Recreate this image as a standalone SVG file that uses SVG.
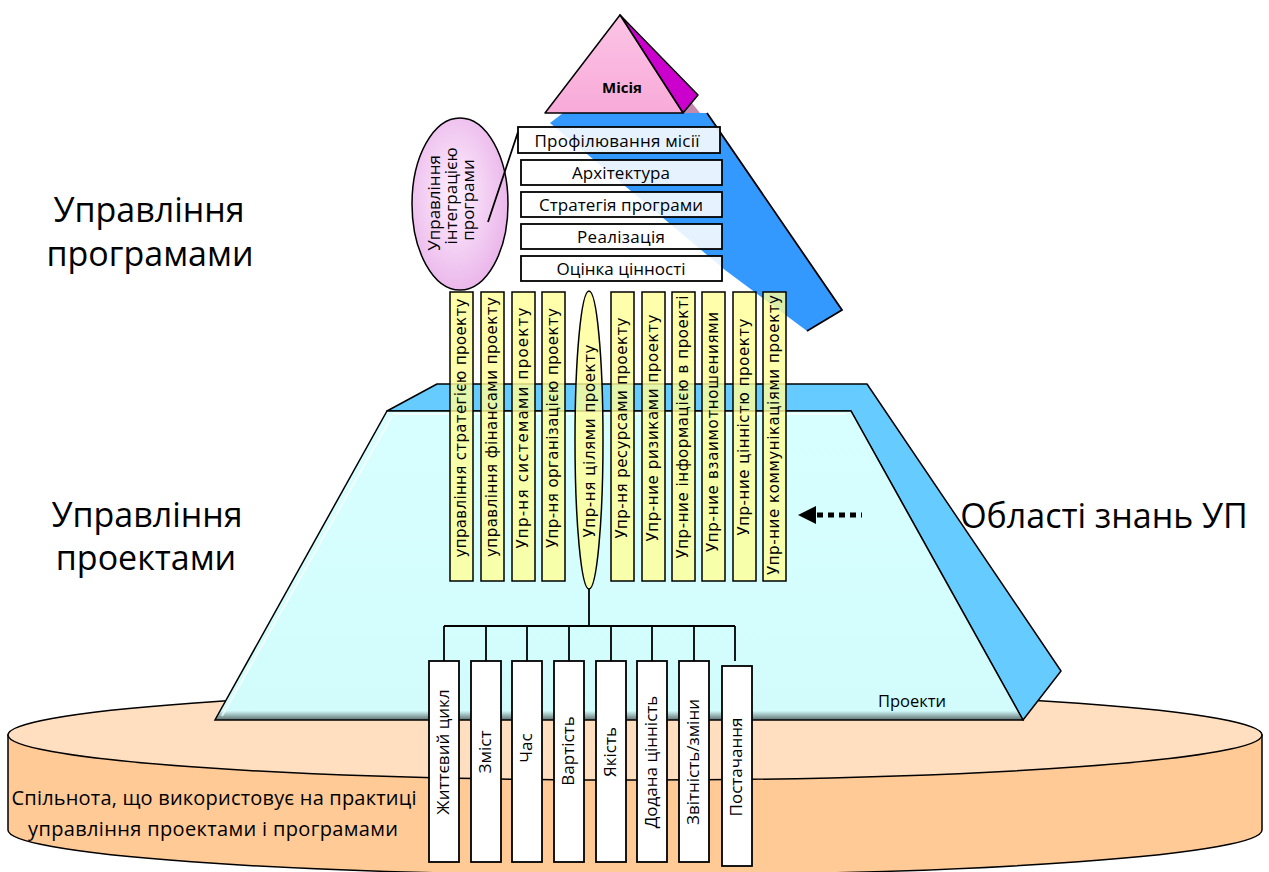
<svg xmlns="http://www.w3.org/2000/svg" width="1269" height="872" viewBox="0 0 1269 872">
<defs>
<style>
.ttl{font-family:"Open Sans","Noto Sans",sans-serif;font-size:34px;fill:#000}
.lbl{font-family:"Open Sans","Noto Sans",sans-serif;font-size:17px;fill:#000}
.bar{fill:#FFFF99;fill-opacity:0.82;stroke:#000;stroke-width:1.5}
.bt{font-family:"DejaVu Sans",sans-serif;font-size:15px;fill:#000}
.wb{fill:#fff;stroke:#000;stroke-width:1.8}
.wt{font-family:"Open Sans","Noto Sans",sans-serif;font-size:17px;fill:#000}
.pb{fill:#fff;fill-opacity:0.88;stroke:#000;stroke-width:1.8}
.ln{stroke:#000;stroke-width:1.8;fill:none}
</style>
<radialGradient id="ellG" cx="0.45" cy="0.45" r="0.6">
<stop offset="0" stop-color="#FFF0FF"/>
<stop offset="1" stop-color="#E9B3E9"/>
</radialGradient>
<linearGradient id="trapG" x1="0" y1="0" x2="0" y2="1">
<stop offset="0" stop-color="#D8FFFF"/>
<stop offset="0.97" stop-color="#D2FCFC"/>
<stop offset="1" stop-color="#5F7070"/>
</linearGradient>
<linearGradient id="pinkG" x1="0" y1="0" x2="0" y2="1">
<stop offset="0" stop-color="#FCC4E6"/>
<stop offset="1" stop-color="#F8AAD8"/>
</linearGradient>
</defs>
<rect width="1269" height="872" fill="#fff"/>

<g id="disc">
<path d="M8,735 L8,830 A627,45 0 0 0 1262,830 L1262,735 Z" fill="#FFCA96" stroke="#000" stroke-width="1.5"/>
<ellipse cx="635" cy="735" rx="627" ry="45" fill="#FFDFC0" stroke="#000" stroke-width="1.5"/>
<text class="lbl" style="font-size:20px" x="214" y="805" text-anchor="middle" textLength="405">Спільнота, що використовує на практиці</text>
<text class="lbl" style="font-size:20px" x="213" y="836" text-anchor="middle" textLength="370">управління проектами і програмами</text>
</g>

<g id="projects-layer">
<polygon points="387,411 437,384 867,384 1061,671 1023,720 851,411" fill="#66CCFF" stroke="#000" stroke-width="1.5" stroke-linejoin="round"/>
<polygon points="387,411 851,411 1023,720 215,720" fill="url(#trapG)" stroke="#000" stroke-width="1.5"/>
<line x1="392" y1="416" x2="222" y2="716" stroke="#fff" stroke-width="2" stroke-opacity="0.7"/>
<line x1="392" y1="414" x2="846" y2="414" stroke="#fff" stroke-width="2" stroke-opacity="0.6"/>
<text class="lbl" style="font-size:16.5px" x="912" y="707" text-anchor="middle">Проекти</text>
</g>

<g id="program-band">
<polygon points="550,123 563,113 707,113 842,310 807,331 725,270" fill="#3399FF"/>
<polyline points="707,113 842,310 807,331" class="ln" stroke-width="1.5"/>
</g>

<g id="mission">
<polygon points="620,13 700,113 683,113" fill="#C48AAE"/>
<polygon points="620,15 698,95 683,113" fill="#CC00CC" stroke="#000" stroke-width="1.5" stroke-linejoin="round"/>
<polygon points="620,15 545,113 683,113" fill="url(#pinkG)" stroke="#000" stroke-width="1.5" stroke-linejoin="round"/>
<text x="622" y="93" text-anchor="middle" style="font-family:'Open Sans','Noto Sans',sans-serif;font-size:15px;font-weight:bold">Місія</text>
</g>

<g id="program-steps">
<rect class="pb" x="518" y="127" width="202" height="26"/>
<text class="lbl" x="617" y="147" text-anchor="middle" textLength="165">Профілювання місії</text>
<rect class="pb" x="521" y="160" width="201" height="25"/>
<text class="lbl" x="621" y="179" text-anchor="middle" textLength="98">Архітектура</text>
<rect class="pb" x="521" y="192" width="201" height="25"/>
<text class="lbl" x="621" y="211" text-anchor="middle" textLength="164">Стратегія програми</text>
<rect class="pb" x="521" y="224" width="201" height="25"/>
<text class="lbl" x="621" y="243" text-anchor="middle" textLength="88">Реалізація</text>
<rect class="pb" x="521" y="256" width="201" height="25"/>
<text class="lbl" x="621" y="275" text-anchor="middle" textLength="129">Оцінка цінності</text>
</g>

<g id="integration">
<ellipse cx="460" cy="204" rx="48" ry="86" fill="url(#ellG)" stroke="#000" stroke-width="1.5"/>
<text class="lbl" transform="translate(440,203) rotate(-90)" text-anchor="middle">Управління</text>
<text class="lbl" transform="translate(457,196) rotate(-90)" text-anchor="middle">інтеграцією</text>
<text class="lbl" transform="translate(474,200) rotate(-90)" text-anchor="middle">програми</text>
</g>

<g id="knowledge-areas">
<rect class="bar" x="450" y="292" width="23" height="289"/>
<text class="bt" transform="translate(466,428) rotate(-90)" text-anchor="middle" textLength="259">управління стратегією проекту</text>
<rect class="bar" x="481" y="292" width="23" height="289"/>
<text class="bt" transform="translate(497,427) rotate(-90)" text-anchor="middle" textLength="260">управління фінансами проекту</text>
<rect class="bar" x="512" y="292" width="23" height="289"/>
<text class="bt" transform="translate(528,428) rotate(-90)" text-anchor="middle" textLength="241">Упр-ня системами проекту</text>
<rect class="bar" x="542" y="292" width="23" height="289"/>
<text class="bt" transform="translate(558,428) rotate(-90)" text-anchor="middle" textLength="240">Упр-ня організацією проекту</text>
<ellipse class="bar" cx="589" cy="440" rx="14" ry="149"/>
<text class="bt" transform="translate(595,441) rotate(-90)" text-anchor="middle" textLength="193">Упр-ня цілями проекту</text>
<rect class="bar" x="611" y="292" width="23" height="289"/>
<text class="bt" transform="translate(627,428) rotate(-90)" text-anchor="middle" textLength="221">Упр-ня ресурсами проекту</text>
<rect class="bar" x="642" y="292" width="23" height="289"/>
<text class="bt" transform="translate(658,428) rotate(-90)" text-anchor="middle" textLength="227">Упр-ние ризиками проекту</text>
<rect class="bar" x="672" y="292" width="23" height="289"/>
<text class="bt" transform="translate(688,427) rotate(-90)" text-anchor="middle" textLength="263">Упр-ние інформацією в проекті</text>
<rect class="bar" x="702" y="292" width="23" height="289"/>
<text class="bt" transform="translate(718,432) rotate(-90)" text-anchor="middle" textLength="240">Упр-ние взаимотношениями</text>
<rect class="bar" x="733" y="292" width="23" height="289"/>
<text class="bt" transform="translate(749,427) rotate(-90)" text-anchor="middle" textLength="217">Упр-ние цінністю проекту</text>
<rect class="bar" x="763" y="292" width="23" height="289"/>
<text class="bt" transform="translate(779,435) rotate(-90)" text-anchor="middle" textLength="280">Упр-ние коммунікаціями проекту</text>
</g>

<g id="connectors">
<line class="ln" x1="488" y1="222" x2="518" y2="132"/>
<line class="ln" x1="589" y1="589" x2="589" y2="626"/>
<line class="ln" x1="444" y1="626" x2="735" y2="626"/>
<line class="ln" x1="444" y1="626" x2="444" y2="661"/>
<line class="ln" x1="486" y1="626" x2="486" y2="661"/>
<line class="ln" x1="527" y1="626" x2="527" y2="661"/>
<line class="ln" x1="569" y1="626" x2="569" y2="661"/>
<line class="ln" x1="611" y1="626" x2="611" y2="661"/>
<line class="ln" x1="652" y1="626" x2="652" y2="661"/>
<line class="ln" x1="694" y1="626" x2="694" y2="661"/>
<line class="ln" x1="735" y1="626" x2="735" y2="661"/>
<line x1="817" y1="515" x2="862" y2="515" stroke="#000" stroke-width="5" stroke-dasharray="6 5"/>
<polygon points="798,515 816,506 816,524" fill="#000"/>
</g>

<g id="components">
<rect class="wb" x="429" y="661" width="30" height="201"/>
<text class="wt" transform="translate(449,752) rotate(-90)" text-anchor="middle">Життєвий цикл</text>
<rect class="wb" x="471" y="661" width="30" height="201"/>
<text class="wt" transform="translate(491,752) rotate(-90)" text-anchor="middle">Зміст</text>
<rect class="wb" x="512" y="661" width="30" height="201"/>
<text class="wt" transform="translate(532,748) rotate(-90)" text-anchor="middle">Час</text>
<rect class="wb" x="554" y="661" width="30" height="201"/>
<text class="wt" transform="translate(574,751) rotate(-90)" text-anchor="middle">Вартість</text>
<rect class="wb" x="596" y="661" width="30" height="201"/>
<text class="wt" transform="translate(616,752) rotate(-90)" text-anchor="middle">Якість</text>
<rect class="wb" x="637" y="661" width="30" height="201"/>
<text class="wt" transform="translate(657,762) rotate(-90)" text-anchor="middle">Додана цінність</text>
<rect class="wb" x="679" y="661" width="30" height="201"/>
<text class="wt" transform="translate(699,762) rotate(-90)" text-anchor="middle">Звітність/зміни</text>
<rect class="wb" x="722" y="666" width="30" height="200"/>
<text class="wt" transform="translate(742,767) rotate(-90)" text-anchor="middle">Постачання</text>
</g>

<g id="titles">
<text class="ttl" x="149" y="222" text-anchor="middle">Управління</text>
<text class="ttl" x="150" y="266" text-anchor="middle">програмами</text>
<text class="ttl" x="147" y="527" text-anchor="middle">Управління</text>
<text class="ttl" x="146" y="570" text-anchor="middle">проектами</text>
<text class="ttl" x="1104" y="528" text-anchor="middle">Області знань УП</text>
</g>
</svg>
